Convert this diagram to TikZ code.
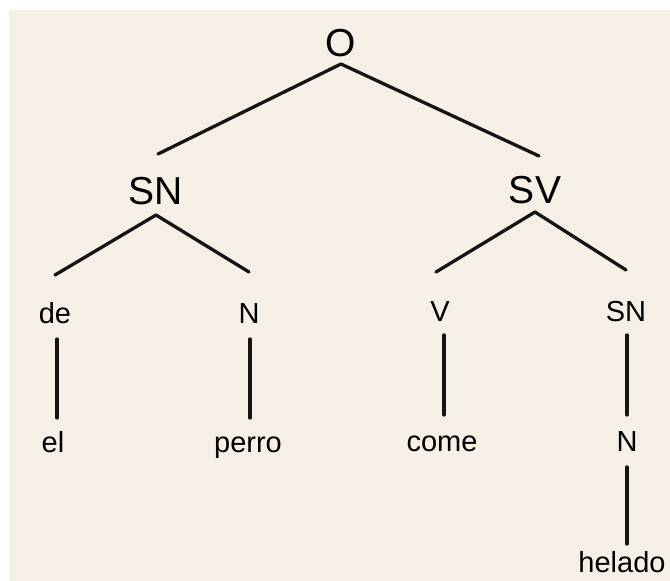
\documentclass[tikz,border=0pt]{standalone}
\usepackage{fontspec}
\setmainfont{Liberation Sans}
\usetikzlibrary{positioning}
\definecolor{paper}{RGB}{246,239,229}
\tikzset{branch/.style = {line width=3.3pt, line cap=round, color=black!92}}
\tikzset{cat/.style = {anchor=base, inner sep=0, font=\fontsize{39}{39}\selectfont}}
\tikzset{word/.style = {anchor=base, inner sep=0, font=\fontsize{29}{29}\selectfont}}

\begin{document}
\begin{tikzpicture}[x=1pt, y=-1pt]
      \useasboundingbox (0,0) rectangle (670,581);
      \clip (0,0) rectangle (670,581);
      \fill [paper] (9,10) rectangle (670,581);

      \node [cat] (o) at (341,56) {O};
      \node [cat] (sn) at (156,204) {SN};
      \node [cat] (sv) at (535,203) {SV};

      \node [word] (de) at (55,323) {de};
      \node [word] (n) at (249,323) {N};
      \node [word] (v) at (440,321) {V};
      \node [word] (snb) at (626,321) {SN};

      \node [word] (el) at (53,452) {el};
      \node [word] (perro) at (248,452) {perro};
      \node [word] (come) at (442,451) {come};
      \node [word] (nb) at (627,451) {N};

      \node [word] (helado) at (622,572) {helado};

      \draw [branch] ([yshift=-8pt]o.base) -- ([xshift=2pt,yshift=50pt]sn.base);
      \draw [branch] ([yshift=-8pt]o.base) -- ([xshift=4pt,yshift=47pt]sv.base);

      \draw [branch] ([yshift=-11pt]sn.base) -- ([yshift=48pt]de.base);
      \draw [branch] ([yshift=-11pt]sn.base) -- ([yshift=51pt]n.base);
      \draw [branch] ([yshift=-9pt]sv.base) -- ([xshift=-4pt,yshift=49pt]v.base);
      \draw [branch] ([yshift=-9pt]sv.base) -- ([yshift=51pt]snb.base);

      \draw [branch] ([xshift=2pt,yshift=-16pt]de.base) -- ([xshift=4pt,yshift=34pt]el.base);
      \draw [branch] ([xshift=1pt,yshift=-16pt]n.base) -- ([xshift=2pt,yshift=34pt]perro.base);
      \draw [branch] ([xshift=4pt,yshift=-14pt]v.base) -- ([xshift=2pt,yshift=36pt]come.base);
      \draw [branch] ([xshift=1pt,yshift=-14pt]snb.base) -- ([yshift=36pt]nb.base);
      \draw [branch] ([yshift=-16pt]nb.base) -- ([xshift=5pt,yshift=28pt]helado.base);
\end{tikzpicture}
\end{document}
